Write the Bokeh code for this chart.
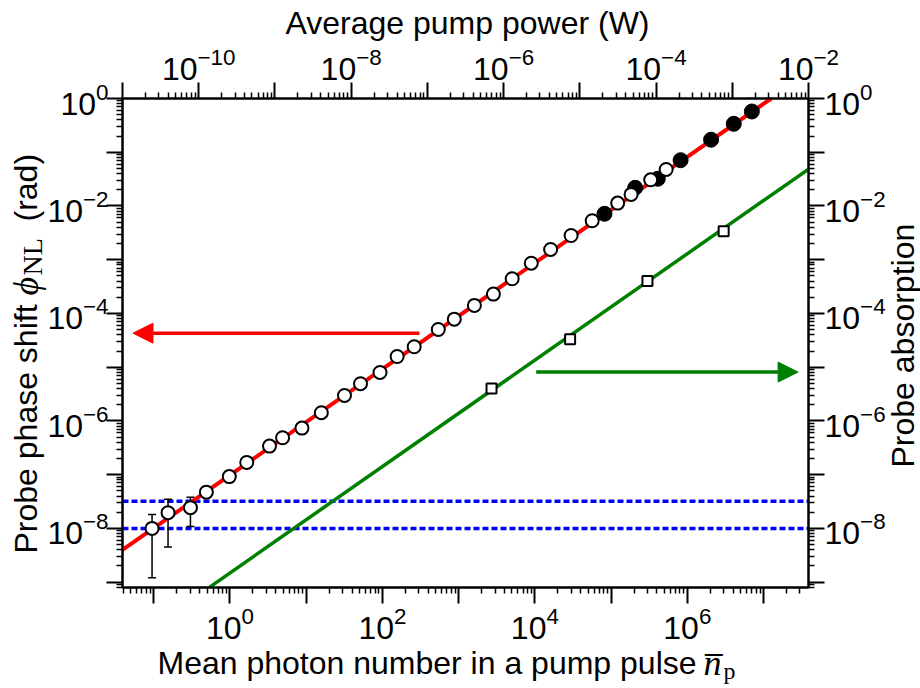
import math
from bokeh.plotting import figure
from bokeh.models import (LogAxis, LogScale, Range1d, FixedTicker, Arrow,
                          NormalHead, Whisker, TeeHead, ColumnDataSource, Span)
from bokeh.core.properties import value
from bokeh.embed import file_html
from bokeh.resources import INLINE

# ---------------- data ----------------
open_n = [0.095, 0.154, 0.303, 0.49, 0.98, 1.66, 3.3, 4.9, 8.8, 15.8, 31.8, 51.6,
          93, 156, 261, 541, 877, 1610, 2860, 5040, 8970, 1.61e4, 2.99e4, 5.65e4,
          1.22e5, 1.83e5, 3.31e5, 5.28e5]
open_phi = [1.0e-8, 1.96e-8, 2.43e-8, 4.73e-8, 9.2e-8, 1.69e-7, 3.4e-7, 4.86e-7,
            7.35e-7, 1.42e-6, 2.98e-6, 4.92e-6, 7.98e-6, 1.58e-5, 2.40e-5, 5.04e-5,
            7.83e-5, 1.41e-4, 2.29e-4, 4.42e-4, 8.61e-4, 1.55e-3, 2.82e-3, 5.31e-3,
            1.13e-2, 1.64e-2, 3.07e-2, 4.78e-2]
filled_n = [8.2e4, 2.07e5, 4.1e5, 8.17e5, 2.05e6, 4.07e6, 7.03e6]
filled_phi = [7.16e-3, 2.18e-2, 3.21e-2, 7.11e-2, 0.171, 0.338, 0.573]

err_n = [0.095, 0.154, 0.303]
err_lo = [1.2e-9, 4.5e-9, 1.09e-8]
err_hi = [1.82e-8, 3.47e-8, 3.78e-8]

abs_n = [2.7e3, 2.9e4, 3.0e5, 3.0e6]
abs_val = [4.0e-6, 3.3e-5, 4.0e-4, 3.4e-3]

phi_fit_n = [0.038, 1.26e7]
phi_fit = [3.9e-9, 1.0]
abs_fit_n = [0.53, 4.1e7]
abs_fit = [7.9e-10, 5.1e-2]

noise_levels = [1.0e-8, 3.2e-8]

red_arrow_x = [306, 0.0534]
red_arrow_y = 4.3e-5
green_arrow_x = [1.04e4, 2.84e7]
green_arrow_y = 8.1e-6

# axis ranges / ticks
n_range = [10 ** -1.41, 10 ** 7.59]
power_range = [1e-11, 1e-2]
y_lim = [10 ** -9.1, 1.0]

n_decades = [1e-1, 1e0, 1e1, 1e2, 1e3, 1e4, 1e5, 1e6, 1e7]
n_labelled = [1e0, 1e2, 1e4, 1e6]
power_decades = [1e-11, 1e-10, 1e-9, 1e-8, 1e-7, 1e-6, 1e-5, 1e-4, 1e-3, 1e-2]
power_labelled = [1e-10, 1e-8, 1e-6, 1e-4, 1e-2]
y_decades = [1e-9, 1e-8, 1e-7, 1e-6, 1e-5, 1e-4, 1e-3, 1e-2, 1e-1, 1e0]
y_labelled = [1e-8, 1e-6, 1e-4, 1e-2, 1e0]

title_top = "Average pump power (W)"
title_bottom = "Mean photon number in a pump pulse"
title_left = "Probe phase shift"
title_left_unit = "(rad)"
title_right = "Probe absorption"


def minors(decades):
    lo = math.floor(math.log10(min(decades))) - 1
    hi = math.ceil(math.log10(max(decades))) + 1
    return [k * 10.0 ** d for d in range(lo, hi) for k in range(2, 10)]


FONT = "Liberation Sans"
SERIF = "Liberation Serif"

p = figure(width=920, height=688, x_axis_type="log", y_axis_type="log",
           x_axis_location=None, y_axis_location=None,
           x_range=Range1d(*n_range), y_range=Range1d(*y_lim),
           output_backend="svg", toolbar_location=None,
           min_border_left=122, min_border_right=112,
           min_border_top=98, min_border_bottom=101)
p.extra_x_ranges = {"power": Range1d(*power_range)}
p.extra_x_scales = {"power": LogScale()}
p.extra_y_ranges = {"abs": Range1d(*y_lim)}
p.extra_y_scales = {"abs": LogScale()}
p.grid.visible = False
p.outline_line_color = "black"
p.outline_line_width = 2
p.background_fill_color = "white"
p.border_fill_color = "white"


def make_axis(decades, labelled, **kw):
    overrides = {d: " " for d in decades if d not in labelled}
    ax = LogAxis(ticker=FixedTicker(ticks=decades, minor_ticks=minors(decades)),
                 major_label_overrides=overrides, **kw)
    ax.axis_line_color = "black"
    ax.axis_line_width = 2
    ax.major_tick_line_color = "black"
    ax.major_tick_line_width = 2
    ax.minor_tick_line_color = "black"
    ax.minor_tick_line_width = 1.5
    ax.major_tick_in = 0
    ax.major_tick_out = 16
    ax.minor_tick_in = 0
    ax.minor_tick_out = 6
    ax.major_label_text_font = FONT
    ax.major_label_text_font_size = "32px"
    ax.major_label_text_color = "black"
    return ax


ax_b = make_axis(n_decades, n_labelled)
ax_b.major_label_standoff = 3
ax_t = make_axis(power_decades, power_labelled, x_range_name="power")
ax_t.major_label_standoff = 3
ax_l = make_axis(y_decades, y_labelled)
ax_l.major_label_standoff = -2
ax_r = make_axis(y_decades, y_labelled, y_range_name="abs")
ax_r.major_label_standoff = 0
p.add_layout(ax_b, "below")
p.add_layout(ax_t, "above")
p.add_layout(ax_l, "left")
p.add_layout(ax_r, "right")

# noise levels (blue dashed)
for lvl in noise_levels:
    p.add_layout(Span(location=lvl, dimension="width", line_color="#0000FF",
                      line_width=3.5, line_dash="6 3", level="underlay"))

# fits
p.line(phi_fit_n, phi_fit, line_color="#FF0000", line_width=4)
p.line(abs_fit_n, abs_fit, line_color="#008000", line_width=3.5, y_range_name="abs")

# error bars
err_src = ColumnDataSource(dict(x=err_n, lo=err_lo, hi=err_hi))
p.add_layout(Whisker(base="x", lower="lo", upper="hi", dimension="height", source=err_src,
                     line_color="black", line_width=1.5,
                     upper_head=TeeHead(size=8, line_width=1.5, line_color="black"),
                     lower_head=TeeHead(size=8, line_width=1.5, line_color="black")))

# data points
p.scatter(filled_n, filled_phi, marker="circle", size=15, fill_color="black",
          line_color="black", line_width=1)
p.scatter(open_n, open_phi, marker="circle", size=13, fill_color="white",
          line_color="black", line_width=2)
p.scatter(abs_n, abs_val, marker="square", size=10, fill_color="white",
          line_color="black", line_width=2, y_range_name="abs")

# arrows
p.add_layout(Arrow(x_start=red_arrow_x[0], y_start=red_arrow_y,
                   x_end=red_arrow_x[1], y_end=red_arrow_y,
                   line_color="#FF0000", line_width=3.5,
                   end=NormalHead(size=20, fill_color="#FF0000", line_color="#FF0000")))
p.add_layout(Arrow(x_start=green_arrow_x[0], y_start=green_arrow_y,
                   x_end=green_arrow_x[1], y_end=green_arrow_y,
                   line_color="#008000", line_width=3.5,
                   end=NormalHead(size=20, fill_color="#008000", line_color="#008000")))

# ---------------- axis titles ----------------
# anchored at the frame's bottom-left corner, placed with pixel offsets,
# drawn at overlay level so they are not clipped to the frame
ax0 = n_range[0] * 1.0005
ay0 = y_lim[0] * 1.0005


def title(text, dx, dy, font=FONT, size="32px", style="normal", angle=0.0,
          align="left"):
    p.text(x=[ax0], y=[ay0], text=[text], x_offset=dx, y_offset=dy, angle=angle,
           text_font=value(font), text_font_size=value(size),
           text_font_style=value(style), text_color="black",
           text_align=value(align), text_baseline=value("alphabetic"),
           level="overlay")


half_pi = math.pi / 2
title(title_top, 345, -564, align="center")
title(title_bottom, 35, 76)
title("n\u0305", 581, 76, font=SERIF, size="36px", style="italic")
title("p", 601, 84, font=SERIF, size="24px")
title(title_left, -97, -34, angle=half_pi)
title("\u03d5", -97, -292, font=SERIF, size="36px", style="italic", angle=half_pi)
title("NL", -90, -312, font=SERIF, size="28px", angle=half_pi)
title(title_left_unit, -97, -366, angle=half_pi)
title(title_right, 780, -120, angle=half_pi)

open("out.html", "w").write(file_html(p, INLINE))
